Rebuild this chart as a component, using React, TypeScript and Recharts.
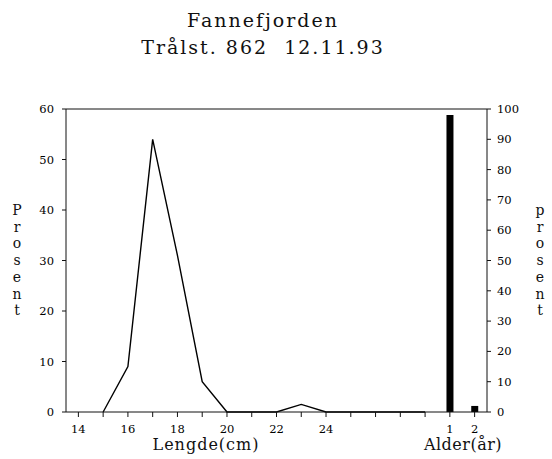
import React from "react";
import { ComposedChart, Line, Bar, XAxis, YAxis, ReferenceLine } from "recharts";

// x categories: length classes 14..28 cm, then age classes 1 and 2 years
const categories = ["14", "15", "16", "17", "18", "19", "20", "21", "22", "23", "24", "25", "26", "27", "28", "1", "2"];
const lengthPct = [null, 0, 9, 54, 31, 6, 0, 0, 0, 1.5, 0, 0, 0, 0, 0, null, null];
const agePct = [null, null, null, null, null, null, null, null, null, null, null, null, null, null, null, 98, 2];
const shownTicks = ["14", "16", "18", "20", "22", "24", "1", "2"];
const leftTicks = [0, 10, 20, 30, 40, 50, 60];
const rightTicks = [0, 10, 20, 30, 40, 50, 60, 70, 80, 90, 100];

const data = categories.map((c, i) => ({ cat: c, lengde: lengthPct[i], alder: agePct[i] }));

const FONT = "'DejaVu Serif', serif";
const tickStyle = { fontSize: 11.5, fill: "#000", fontFamily: FONT };

function VLabel({ x, text }: { x: number; text: string }) {
  return (
    <div style={{ position: "absolute", left: x - 8, top: 202, width: 16, fontFamily: FONT, fontSize: 14, lineHeight: "16.7px", textAlign: "center", color: "#111" }}>
      {text.split("").map((ch, i) => <div key={i}>{ch}</div>)}
    </div>
  );
}

export default function App() {
  return (
    <div style={{ position: "absolute", left: 0, top: 0, width: 552, height: 459, background: "#fff", overflow: "hidden" }}>
      <div style={{ position: "absolute", top: 7, left: 0, width: 526, textAlign: "center", fontFamily: FONT, fontSize: 19, letterSpacing: 2, lineHeight: "27px", color: "#111" }}>
        <div>Fannefjorden</div>
        <div style={{ whiteSpace: "pre" }}>Trålst. 862  12.11.93</div>
      </div>
      <ComposedChart width={552} height={459} data={data} margin={{ top: 109, right: 0, bottom: 0, left: 0 }}>
        <XAxis
          dataKey="cat"
          interval={0}
          height={47}
          axisLine={{ stroke: "#111" }}
          tickLine={{ stroke: "#111" }}
          tickSize={5}
          tickMargin={8}
          tick={tickStyle}
          tickFormatter={(v: string) => (shownTicks.includes(v) ? v : "")}
        />
        <YAxis
          yAxisId="left"
          width={66}
          domain={[0, 60]}
          ticks={leftTicks}
          axisLine={{ stroke: "#111" }}
          tickLine={{ stroke: "#111" }}
          tickSize={4}
          tickMargin={8}
          tick={tickStyle}
        />
        <YAxis
          yAxisId="right"
          orientation="right"
          width={65}
          domain={[0, 100]}
          ticks={rightTicks}
          axisLine={{ stroke: "#111" }}
          tickLine={{ stroke: "#111" }}
          tickSize={4}
          tickMargin={6}
          tick={{ ...tickStyle, textAnchor: "start" }}
        />
        <ReferenceLine yAxisId="left" y={60} stroke="#111" />
        <Bar yAxisId="right" dataKey="alder" fill="#000" barSize={7} isAnimationActive={false} />
        <Line yAxisId="left" type="linear" dataKey="lengde" stroke="#000" strokeWidth={1.4} dot={false} isAnimationActive={false} />
      </ComposedChart>
      <div style={{ position: "absolute", left: 146, top: 435, width: 120, textAlign: "center", fontFamily: FONT, fontSize: 16, letterSpacing: 1, color: "#111" }}>Lengde(cm)</div>
      <div style={{ position: "absolute", left: 422, top: 435, width: 82, textAlign: "center", fontFamily: FONT, fontSize: 16, letterSpacing: 0.5, color: "#111" }}>Alder(år)</div>
      <VLabel x={17} text="Prosent" />
      <VLabel x={540} text="prosent" />
    </div>
  );
}
